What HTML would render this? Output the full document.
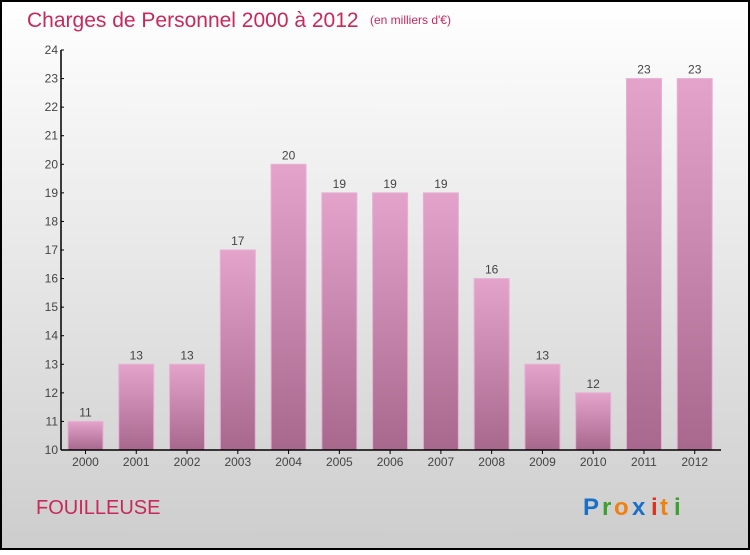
<!DOCTYPE html>
<html><head><meta charset="utf-8"><style>
body{margin:0;width:750px;height:550px;overflow:hidden;font-family:"Liberation Sans",sans-serif}
</style></head><body>
<svg width="750" height="550" xmlns="http://www.w3.org/2000/svg">
<defs>
<linearGradient id="bg" x1="0" y1="0" x2="0" y2="1"><stop offset="0" stop-color="#ffffff"/><stop offset="1" stop-color="#cdcdcd"/></linearGradient>
<linearGradient id="bar" x1="0" y1="0" x2="0" y2="1"><stop offset="0" stop-color="#e3a3cb"/><stop offset="1" stop-color="#a8688e"/></linearGradient>
</defs>
<rect x="1" y="1" width="748" height="548" fill="url(#bg)" stroke="#000" stroke-width="2"/>
<text x="27" y="27" font-size="21" fill="#c8285a">Charges de Personnel 2000 à 2012</text>
<text x="370" y="24" font-size="12" fill="#c8285a">(en milliers d'€)</text>
<text x="36" y="514" font-size="20" fill="#c8285a">FOUILLEUSE</text>
<g font-size="24" font-weight="bold" font-family="'Liberation Sans',sans-serif">
<text x="583" y="515" fill="#1a70c8">P</text><text x="602" y="515" fill="#3aa030">r</text><text x="614" y="515" fill="#f08010">o</text><text x="632" y="515" fill="#1a70c8">x</text><text x="651" y="515" fill="#e03020">i</text><text x="660" y="515" fill="#f08010">t</text><text x="674" y="515" fill="#3aa030">i</text>
</g>
<g id="plot"></g>
</svg>
<script>
const years=["2000","2001","2002","2003","2004","2005","2006","2007","2008","2009","2010","2011","2012"];
const values=[11,13,13,17,20,19,19,19,16,13,12,23,23];
const yTicks=[10,11,12,13,14,15,16,17,18,19,20,21,22,23,24];
const ns="http://www.w3.org/2000/svg";
const g=document.getElementById('plot');
const x0=61,x1=721,yMin=10,yMax=24,yTop=50,yBot=450;
const band=(x1-x0)/years.length;
const y=v=>yBot-(v-yMin)/(yMax-yMin)*(yBot-yTop);
function mk(t,a){const e=document.createElementNS(ns,t);for(const k in a)e.setAttribute(k,a[k]);g.appendChild(e);return e;}
years.forEach((yr,i)=>{
  const bx=x0+i*band+7;
  const b=mk('rect',{x:bx,y:y(values[i]),width:35,height:yBot-y(values[i]),fill:'url(#bar)',stroke:'#e8b0d4','stroke-width':1});
  
  
  const t=mk('text',{x:bx+17.5,y:y(values[i])-5,'font-size':12,fill:'#444','text-anchor':'middle'});
  t.textContent=values[i];
  
  
  const l=mk('text',{x:bx+17.5,y:466,'font-size':12,fill:'#444','text-anchor':'middle'});
  l.textContent=yr;
  
  
  const tk=mk('line',{x1:bx+17.5,x2:bx+17.5,y1:yBot,y2:yBot+4,stroke:'#000'});
  
  
});
yTicks.forEach(v=>{
  const tk=mk('line',{x1:x0,x2:x0+3,y1:y(v),y2:y(v),stroke:'#000'});
  
  
  const t=mk('text',{x:x0-3,y:y(v)+4,'font-size':12,fill:'#444','text-anchor':'end'});
  t.textContent=v;
  
  
});
const ya=mk('line',{x1:x0,x2:x0,y1:yTop,y2:yBot,stroke:'#000','stroke-width':1.5});


const xa=mk('line',{x1:x0,x2:x1,y1:yBot,y2:yBot,stroke:'#000','stroke-width':1.5});


</script>
</body></html>
